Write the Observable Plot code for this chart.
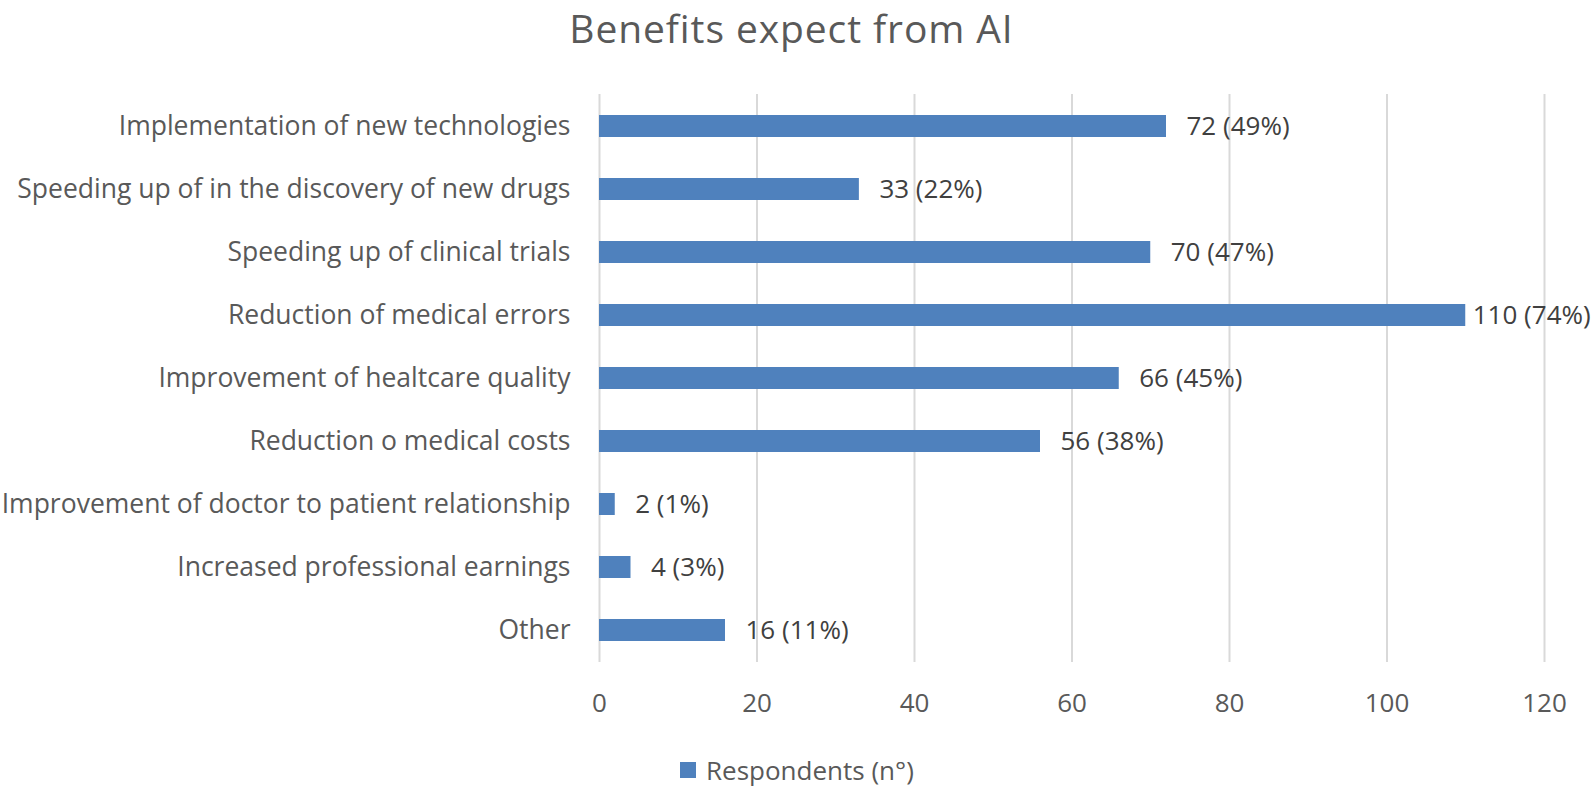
<!DOCTYPE html>
<html>
<head>
<meta charset="utf-8">
<script src="https://cdn.jsdelivr.net/npm/d3@7"></script>
<script src="https://cdn.jsdelivr.net/npm/@observablehq/plot@0.6"></script>
<style>
  html, body { margin: 0; padding: 0; background: #fff; }
  body { width: 1596px; height: 787px; overflow: hidden; position: relative; font-family: "Open Sans", sans-serif; }
  #title { box-sizing: border-box; height: 80px; padding-top: 0px; padding-right: 13px; line-height: 55px; text-align: center; font-size: 39px; letter-spacing: 0.9px; color: #595959; }
  #chart { height: 640px; }
  #chart svg { display: block; }
  #legend { position: absolute; top: 755px; left: 680px; height: 30px; font-size: 26px; color: #595959; display: flex; align-items: center; }
  #legend span.sw { display: inline-block; width: 16px; height: 16px; background: #4F81BD; margin-right: 10px; }
</style>
</head>
<body>
<div id="title">Benefits expect from AI</div>
<div id="chart"></div>
<div id="legend"><span class="sw"></span>Respondents (n°)</div>
<script>
const categories = [
  "Implementation of new technologies",
  "Speeding up of in the discovery of new drugs",
  "Speeding up of clinical trials",
  "Reduction of medical errors",
  "Improvement of healtcare quality",
  "Reduction o medical costs",
  "Improvement of doctor to patient relationship",
  "Increased professional earnings",
  "Other"
];
const respondents = [72, 33, 70, 110, 66, 56, 2, 4, 16];
const percents = [49, 22, 47, 74, 45, 38, 1, 3, 11];
const xTicks = [0, 20, 40, 60, 80, 100, 120];

const data = categories.map((c, i) => ({
  category: c,
  value: respondents[i],
  label: `${respondents[i]} (${percents[i]}%)`
}));

const chart = Plot.plot({
  width: 1596,
  height: 640,
  marginLeft: 599,
  marginRight: 52,
  marginTop: 14,
  marginBottom: 58,
  style: { fontFamily: "'Open Sans', sans-serif", fontSize: "26px", color: "#595959", background: "#fff", overflow: "visible" },
  x: { domain: [0, 120], ticks: xTicks, label: null },
  y: { domain: categories, paddingInner: 0.647, paddingOuter: 0.3235, label: null },
  marks: [
    Plot.gridX(xTicks, { stroke: "#d9d9d9", strokeOpacity: 1, strokeWidth: 2 }),
    Plot.barX(data, { x: "value", y: "category", fill: "#4F81BD" }),
    Plot.text(data, { filter: d => d.value < 100, x: "value", y: "category", text: "label", textAnchor: "start", dx: 20, fill: "#404040", fontSize: 26 }),
    Plot.text(data, { filter: d => d.value >= 100, x: "value", y: "category", text: "label", textAnchor: "start", dx: 7, fill: "#404040", fontSize: 26 }),
    Plot.axisX({ ticks: xTicks, tickSize: 0, tickPadding: 31, fontSize: 26, label: null, fill: "#595959" }),
    Plot.axisY({ tickSize: 0, tickPadding: 29, fontSize: 26.5, label: null, fill: "#595959" })
  ]
});
document.getElementById("chart").appendChild(chart);
</script>
</body>
</html>
